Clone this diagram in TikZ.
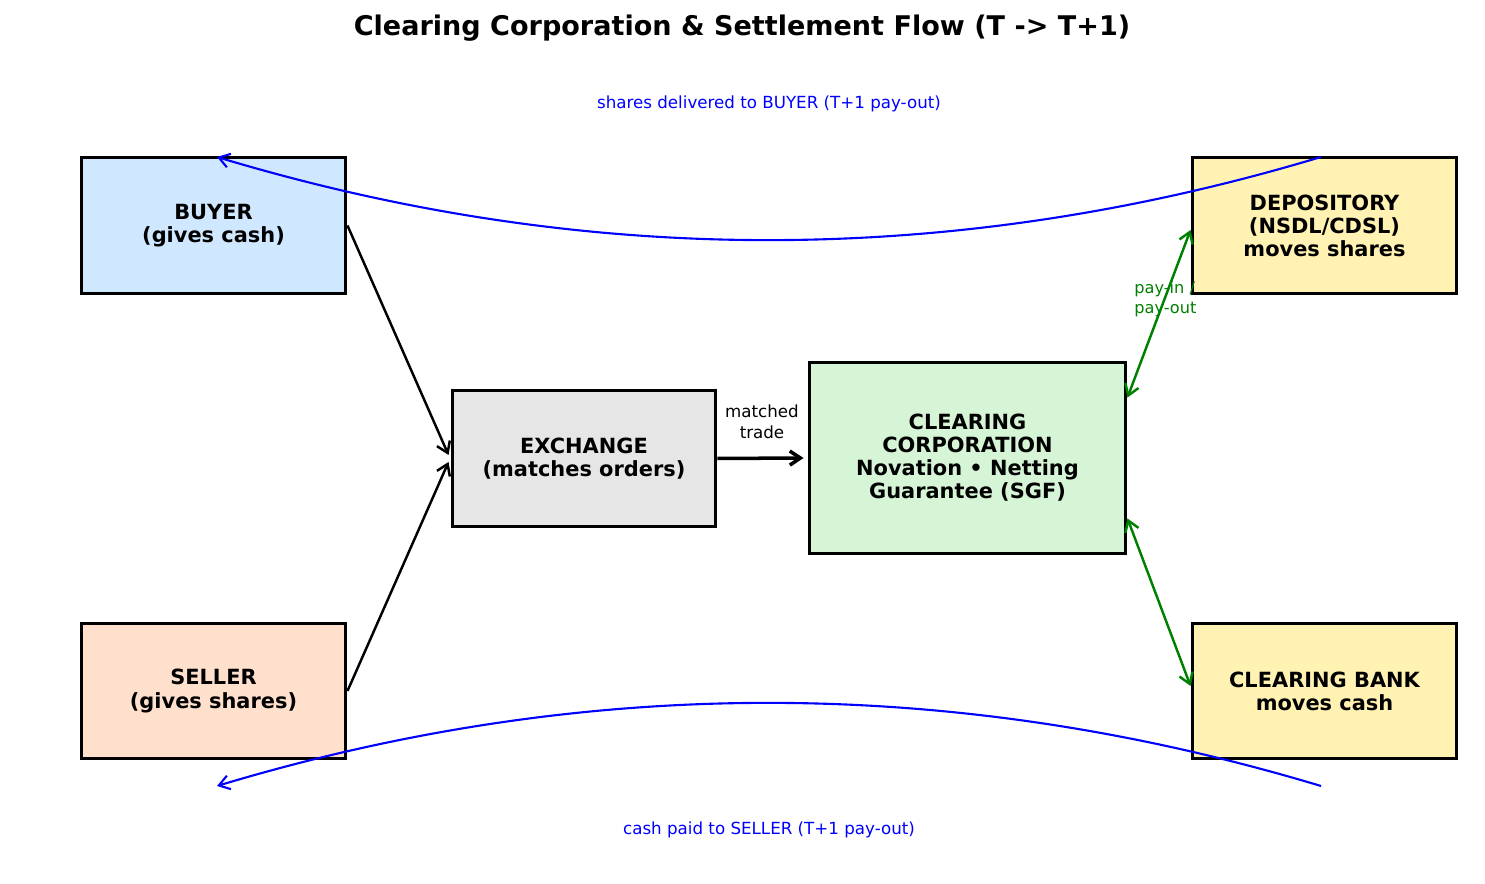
\documentclass[tikz,border=0pt]{standalone}
\usepackage{fontspec}
\setmainfont{DejaVu Sans}
\usetikzlibrary{arrows.meta,calc}
\definecolor{buyerfill}{HTML}{CFE8FF}
\definecolor{sellerfill}{HTML}{FFE0CC}
\definecolor{exfill}{HTML}{E6E6E6}
\definecolor{ccfill}{HTML}{D6F5D6}
\definecolor{yelfill}{HTML}{FFF2B3}
\definecolor{mplgreen}{HTML}{008000}
\definecolor{mplblue}{HTML}{0000FF}
\begin{document}
\begin{tikzpicture}[x=0.02cm,y=-0.02cm,
  box/.style={draw=black,line width=1.7pt,align=center,inner sep=0pt,
    font=\fontsize{11.9}{13.1}\selectfont\bfseries},
  sidebox/.style={box,minimum width=5.3cm,minimum height=2.72cm},
  tip/.style={-{Straight Barb[length=6pt,width=8pt]}},
  flow/.style={tip,line width=1.4pt,black},
  bigflow/.style={-{Straight Barb[length=6pt,width=8pt]},line width=2pt,black},
  link/.style={{Straight Barb[length=6pt,width=8pt]}-{Straight Barb[length=6pt,width=8pt]},line width=1.4pt,mplgreen},
  curve/.style={tip,line width=1.2pt,mplblue},
  lbl/.style={font=\fontsize{9.5}{11.8}\selectfont,inner sep=0pt,align=center}
]
\useasboundingbox (0,0) rectangle (1485,884);

\node[font=\fontsize{15.4}{18}\selectfont\bfseries] (title) at (742,28) {Clearing Corporation \& Settlement Flow (T -> T+1)};

\node[sidebox,fill=buyerfill] (buyer) at (213.5,225.5) {BUYER\\(gives cash)};
\node[sidebox,fill=sellerfill] (seller) at (213.5,691) {SELLER\\(gives shares)};
\node[box,fill=exfill,minimum width=5.28cm,minimum height=2.74cm] (ex) at (584,458.5) {EXCHANGE\\(matches orders)};
\node[box,fill=ccfill,minimum width=6.34cm,minimum height=3.84cm] (cc) at (967.5,458) {CLEARING\\CORPORATION\\Novation • Netting\\Guarantee (SGF)};
\node[sidebox,fill=yelfill] (dep) at (1324.5,225.5) {DEPOSITORY\\(NSDL/CDSL)\\moves shares};
\node[sidebox,fill=yelfill] (bank) at (1324.5,691) {CLEARING BANK\\moves cash};

% black flows
\draw[flow] (buyer.east) -- ($(ex.west)+(-2,-3.5)$);
\draw[flow] (seller.east) -- ($(ex.west)+(-2,3.5)$);
\draw[bigflow] (ex.east) -- ($(cc.west)+(-4,0)$);
\node[lbl] (mt) at (762,422) {matched\\trade};

% green links
\coordinate (ccA) at ($(cc.north east)+(0,37)$);
\coordinate (ccB) at ($(cc.south east)+(0,-37)$);
\coordinate (depW) at ($(dep.west)+(0,4.5)$);
\coordinate (bankW) at ($(bank.west)+(0,-5)$);
\draw[link] (ccA) -- (depW);
\draw[link] (ccB) -- (bankW);
\node[font=\fontsize{9.2}{11.3}\selectfont,text=mplgreen,align=left,inner sep=0pt,anchor=west] (pay) at (1134,299) {pay-in /\\pay-out};

% blue curves
\coordinate (topS) at (1321,157);
\coordinate (topE) at (217,157);
\coordinate (botS) at (1321,786);
\coordinate (botE) at (217,786);
\draw[curve] (topS) .. controls (953,267.7) and (585,267.7) .. (topE);
\draw[curve] (botS) .. controls (953,675.3) and (585,675.3) .. (botE);
\node[lbl,text=mplblue] (shl) at (769,104) {shares delivered to BUYER (T+1 pay-out)};
\node[lbl,text=mplblue] (csl) at (769,830) {cash paid to SELLER (T+1 pay-out)};
\end{tikzpicture}
\end{document}
